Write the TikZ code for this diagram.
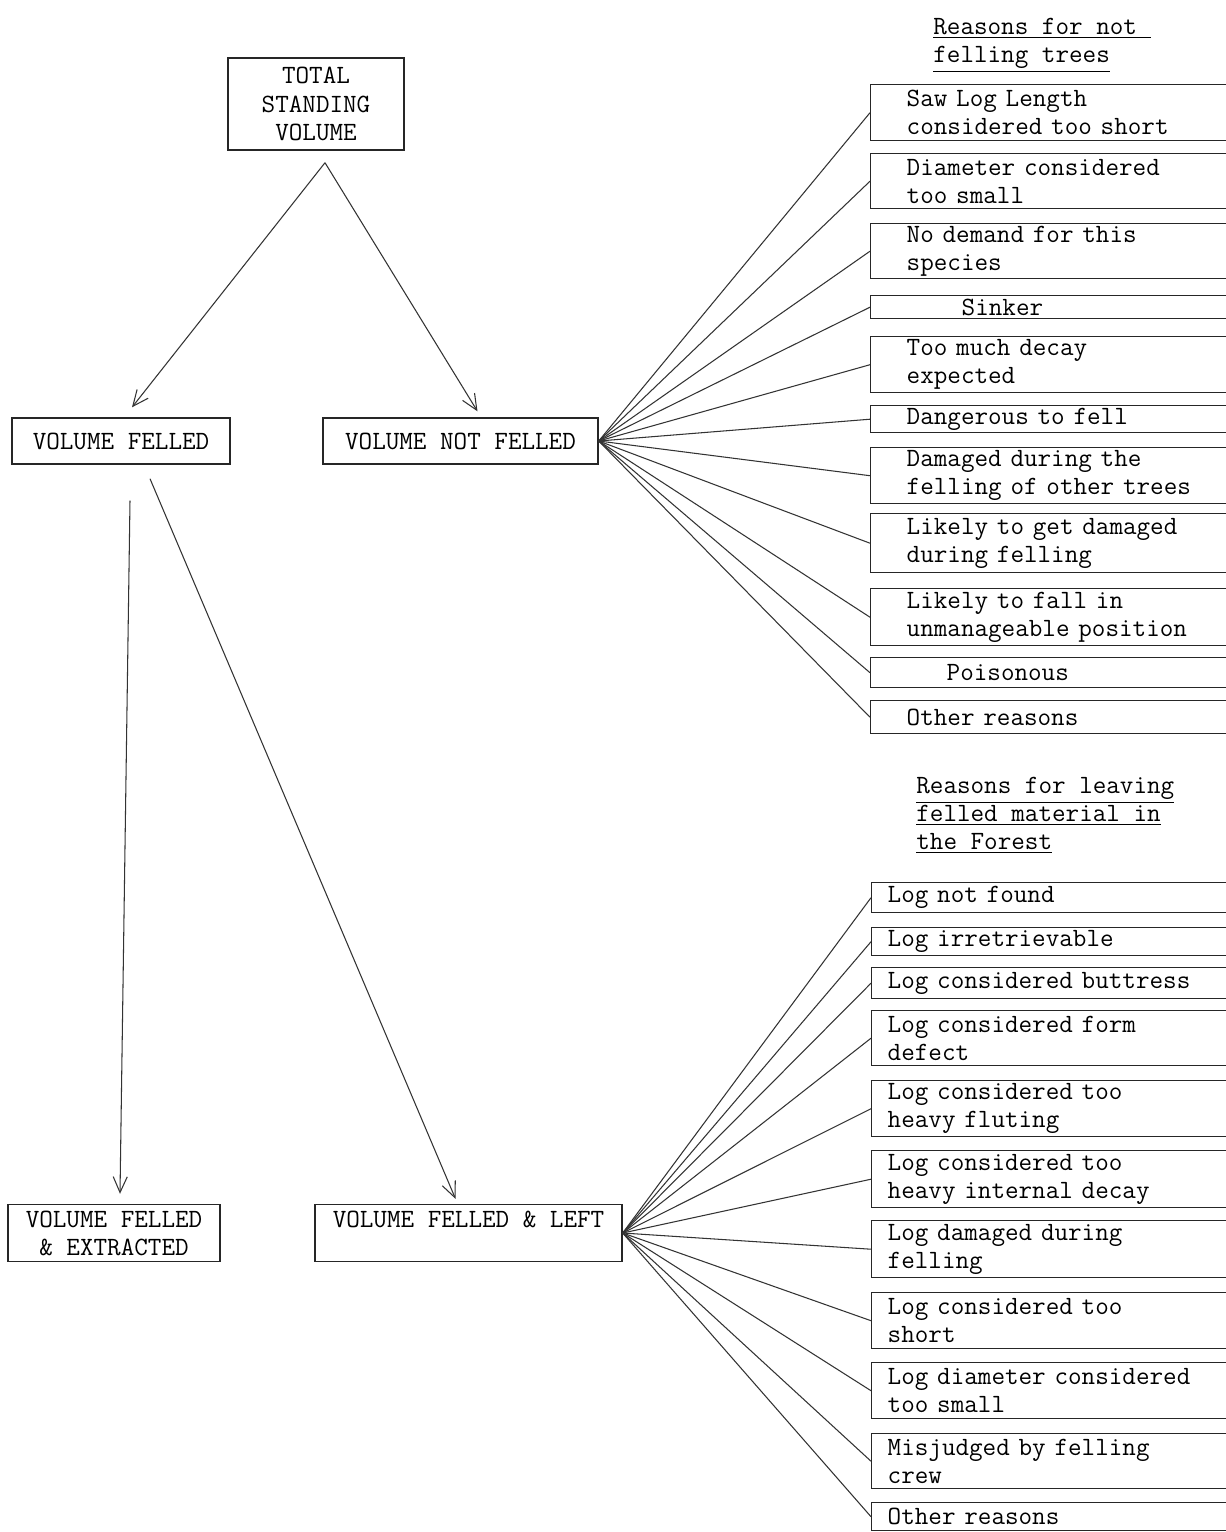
\documentclass[tikz,border=0pt]{standalone}
\usepackage{tikz}
\usetikzlibrary{positioning, arrows.meta}
\tikzstyle{Volume} = [rectangle,
                      draw=black!85,
                      line width=0.8pt,
                      align=center,
                      inner sep=0pt,
                      font=\fontsize{15}{16}\selectfont\ttfamily]
\tikzstyle{ReasonA} = [rectangle,
                       draw=black!85,
                       line width=0.8pt,
                       anchor=north west,
                       align=left,
                       text width=6.5cm,
                       inner xsep=0.72cm,
                       inner ysep=0pt,
                       font=\fontsize{15}{16}\selectfont\ttfamily]
\tikzstyle{ReasonB} = [rectangle,
                       draw=black!85,
                       line width=0.8pt,
                       anchor=north west,
                       align=left,
                       text width=7.0cm,
                       inner xsep=0.32cm,
                       inner ysep=0pt,
                       font=\fontsize{15}{16}\selectfont\ttfamily]
\tikzstyle{Heading} = [anchor=north west,
                       align=left,
                       inner sep=0pt,
                       font=\fontsize{15}{16}\selectfont\ttfamily]
\tikzstyle{Branch} = [draw=black!80, line width=0.6pt]
\tikzstyle{Flow} = [draw=black!80, line width=0.6pt,
                    -{Straight Barb[length=9pt,width=8pt]}]

\begin{document}
\begin{tikzpicture}
        \useasboundingbox[fill=white] (0,0) rectangle (24.52,-30.64);

        \node (TSV) [Volume, minimum width=3.52cm, minimum height=1.84cm] at (6.32,-2.08) {TOTAL\\STANDING\\VOLUME};
        \node (VF)  [Volume, minimum width=4.36cm, minimum height=0.92cm] at (2.42,-8.82) {VOLUME FELLED};
        \node (VNF) [Volume, minimum width=5.5cm, minimum height=0.92cm] at (9.21,-8.82) {VOLUME NOT FELLED};
        \node (VFE) [Volume, minimum width=4.24cm, minimum height=1.14cm] at (2.28,-24.66) {VOLUME FELLED\\\& EXTRACTED};
        \node (VFL) [Volume, minimum width=6.14cm, minimum height=1.14cm] at (9.37,-24.66) {VOLUME FELLED \& LEFT\\\mbox{}};

        % reasons for not felling
        \node (H1) [Heading] at (18.66,-0.36) {\underline{Reasons for not\ }\\\underline{felling trees}};
        \node (A1)  [ReasonA, minimum height=1.12cm] at (17.4,-1.68) {Saw Log Length\\considered too short};
        \node (A2)  [ReasonA, minimum height=1.10cm] at (17.4,-3.06) {Diameter considered\\too small};
        \node (A3)  [ReasonA, minimum height=1.10cm] at (17.4,-4.46) {No demand for this\\species};
        \node (A4)  [ReasonA, minimum height=0.46cm] at (17.4,-5.90) {\hspace*{1.1cm}Sinker};
        \node (A5)  [ReasonA, minimum height=1.12cm] at (17.4,-6.72) {Too much decay\\expected};
        \node (A6)  [ReasonA, minimum height=0.54cm] at (17.4,-8.10) {Dangerous to fell};
        \node (A7)  [ReasonA, minimum height=1.12cm] at (17.4,-8.94) {Damaged during the\\felling of other trees};
        \node (A8)  [ReasonA, minimum height=1.18cm] at (17.4,-10.26) {Likely to get damaged\\during felling};
        \node (A9)  [ReasonA, minimum height=1.14cm] at (17.4,-11.76) {Likely to fall in\\unmanageable position};
        \node (A10) [ReasonA, minimum height=0.60cm] at (17.4,-13.14) {\hspace*{0.8cm}Poisonous};
        \node (A11) [ReasonA, minimum height=0.66cm] at (17.4,-14.00) {Other reasons};

        % reasons for leaving felled material
        \node (H2) [Heading] at (18.32,-15.54) {\underline{Reasons for leaving}\\\underline{felled material in}\\\underline{the Forest}};
        \node (B1)  [ReasonB, minimum height=0.60cm] at (17.42,-17.64) {Log not found};
        \node (B2)  [ReasonB, minimum height=0.56cm] at (17.42,-18.54) {Log irretrievable};
        \node (B3)  [ReasonB, minimum height=0.62cm] at (17.42,-19.34) {Log considered buttress};
        \node (B4)  [ReasonB, minimum height=1.10cm] at (17.42,-20.20) {Log considered form\\defect};
        \node (B5)  [ReasonB, minimum height=1.12cm] at (17.42,-21.60) {Log considered too\\heavy fluting};
        \node (B6)  [ReasonB, minimum height=1.14cm] at (17.42,-23.00) {Log considered too\\heavy internal decay};
        \node (B7)  [ReasonB, minimum height=1.14cm] at (17.42,-24.40) {Log damaged during\\felling};
        \node (B8)  [ReasonB, minimum height=1.12cm] at (17.42,-25.84) {Log considered too\\short};
        \node (B9)  [ReasonB, minimum height=1.12cm] at (17.42,-27.24) {Log diameter considered\\too small};
        \node (B10) [ReasonB, minimum height=1.10cm] at (17.42,-28.66) {Misjudged by felling\\crew};
        \node (B11) [ReasonB, minimum height=0.56cm] at (17.42,-30.04) {Other reasons};

        % arrows
        \coordinate (TSVtip) at ([xshift=0.18cm,yshift=-0.24cm]TSV.south);
        \draw [Flow] (TSVtip) -- ([xshift=0.22cm,yshift=0.2cm]VF.north);
        \draw [Flow] (TSVtip) -- ([xshift=0.34cm,yshift=0.12cm]VNF.north);
        \draw [Flow] ([xshift=0.18cm,yshift=-0.72cm]VF.south) -- ([xshift=0.12cm,yshift=0.2cm]VFE.north);
        \draw [Flow] ([xshift=0.58cm,yshift=-0.28cm]VF.south) -- ([xshift=-0.26cm,yshift=0.1cm]VFL.north);

        \draw [Branch] (VNF.east) -- (A1.west);
        \draw [Branch] (VNF.east) -- (A2.west);
        \draw [Branch] (VNF.east) -- (A3.west);
        \draw [Branch] (VNF.east) -- (A4.west);
        \draw [Branch] (VNF.east) -- (A5.west);
        \draw [Branch] (VNF.east) -- (A6.west);
        \draw [Branch] (VNF.east) -- (A7.west);
        \draw [Branch] (VNF.east) -- (A8.west);
        \draw [Branch] (VNF.east) -- (A9.west);
        \draw [Branch] (VNF.east) -- (A10.west);
        \draw [Branch] (VNF.east) -- (A11.west);

        \draw [Branch] (VFL.east) -- (B1.west);
        \draw [Branch] (VFL.east) -- (B2.west);
        \draw [Branch] (VFL.east) -- (B3.west);
        \draw [Branch] (VFL.east) -- (B4.west);
        \draw [Branch] (VFL.east) -- (B5.west);
        \draw [Branch] (VFL.east) -- (B6.west);
        \draw [Branch] (VFL.east) -- (B7.west);
        \draw [Branch] (VFL.east) -- (B8.west);
        \draw [Branch] (VFL.east) -- (B9.west);
        \draw [Branch] (VFL.east) -- (B10.west);
        \draw [Branch] (VFL.east) -- (B11.west);
    \end{tikzpicture}
\end{document}
